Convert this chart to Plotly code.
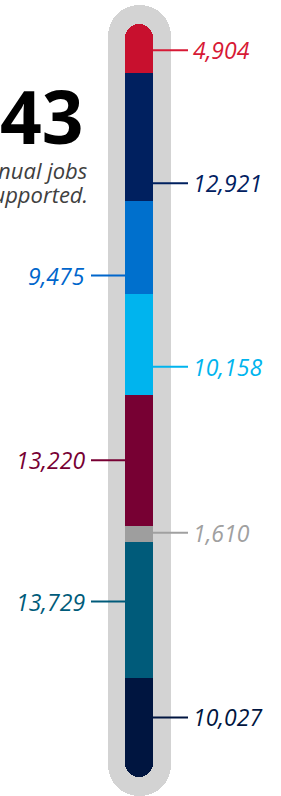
import plotly.graph_objects as go

# ---- data ----
categories = ["A", "B", "C", "D", "E", "F", "G", "H"]
values = [4904, 12921, 9475, 10158, 13220, 1610, 13729, 10027]
colors = ["#C8102E", "#00205F", "#0070CD", "#00B4EE", "#770033", "#9E9E9E", "#005B7A", "#001540"]
label_colors = ["#D71935", "#00205F", "#0066CC", "#00B4EE", "#770033", "#A0A0A0", "#005B7A", "#001540"]
label_text = ["4,904", "12,921", "9,475", "10,158", "13,220", "1,610", "13,729", "10,027"]
label_side = ["right", "right", "left", "right", "left", "right", "left", "right"]
label_frac = [0.54, 0.865, 0.80, 0.72, 0.50, 0.44, 0.44, 0.40]
big_number = "76,043"
subtitle_lines = ["annual jobs", "supported."]

# ---- layout constants (pixels) ----
W, H = 281, 796
BAR_X, BAR_W = 139, 28
PILL_W = 63
BAR_TOP_PX, BAR_BOT_PX = 24, 777
PILL_TOP_PX, PILL_BOT_PX = 5, 796
N_UP = 4  # segments drawn upward from the split point (top half)

total = sum(values)
k = (BAR_BOT_PX - BAR_TOP_PX) / total  # px per unit
neg_total = sum(values[:N_UP])
pos_total = total - neg_total
y_top = -neg_total - BAR_TOP_PX / k
y_bot = pos_total + (H - BAR_BOT_PX) / k

starts = []
acc = -neg_total
for v in values:
    starts.append(acc)
    acc += v

fig = go.Figure()

# background pill: a single bar with a base -> rounded at both ends
pill_top_val = -neg_total - (BAR_TOP_PX - PILL_TOP_PX) / k
pill_bot_val = pos_total + (PILL_BOT_PX - BAR_BOT_PX) / k
fig.add_trace(go.Bar(x=[BAR_X], y=[pill_bot_val - pill_top_val], base=[pill_top_val], width=[PILL_W],
                     marker=dict(color="#D3D3D3", line=dict(width=0), cornerradius="50%"),
                     hoverinfo="skip", showlegend=False, xaxis="x", yaxis="y"))

# stacked segments (relative stacking: top half negative, bottom half positive;
# outermost bars in each direction get rounded)
order = list(range(N_UP - 1, -1, -1)) + list(range(N_UP, len(values)))
for i in order:
    v = values[i]
    size = -v if i < N_UP else v
    fig.add_trace(go.Bar(x=[BAR_X], y=[size], width=[BAR_W], name=categories[i],
                         marker=dict(color=colors[i], line=dict(width=0)),
                         showlegend=False, xaxis="x2", yaxis="y2",
                         hovertemplate=label_text[i] + "<extra></extra>"))

# labels with leader lines
for v, s, col, txt, side, f in zip(values, starts, label_colors, label_text, label_side, label_frac):
    yv = s + v * f
    if side == "right":
        x0, x1, tx, anchor = BAR_X + BAR_W / 2, 188, 191, "left"
    else:
        x0, x1, tx, anchor = 91, BAR_X - BAR_W / 2, 87, "right"
    fig.add_shape(type="line", x0=x0, x1=x1, y0=yv, y1=yv, xref="x", yref="y",
                  line=dict(color=col, width=2))
    fig.add_annotation(x=tx, y=yv, xref="x", yref="y", text=txt, showarrow=False,
                       xanchor=anchor, yanchor="middle",
                       font=dict(family="Open Sans", size=23, color=col, style="italic"))

# headline number and subtitle
fig.add_annotation(x=86, y=1 - 116 / H, xref="x", yref="paper", text=big_number, showarrow=False,
                   xanchor="right", yanchor="middle",
                   font=dict(family="Open Sans", size=73, color="#000000", weight="bold"))
for j, line in enumerate(subtitle_lines):
    fig.add_annotation(x=90, y=1 - (170 + 24 * j) / H, xref="x", yref="paper", text=line, showarrow=False,
                       xanchor="right", yanchor="middle",
                       font=dict(family="Open Sans", size=22, color="#404040", style="italic"))

fig.update_layout(
    width=W, height=H, margin=dict(l=0, r=0, t=0, b=0),
    paper_bgcolor="white", plot_bgcolor="white",
    barmode="relative", bargap=0, barcornerradius="50%",
    xaxis=dict(range=[0, W], visible=False, fixedrange=True),
    yaxis=dict(range=[y_bot, y_top], visible=False, fixedrange=True),
    xaxis2=dict(range=[0, W], visible=False, fixedrange=True, overlaying="x"),
    yaxis2=dict(range=[y_bot, y_top], visible=False, fixedrange=True, overlaying="y"),
    showlegend=False,
)

fig.write_html("out.html", config={"displayModeBar": False},
               post_script="document.body.style.margin='0';document.body.style.overflow='hidden';")
